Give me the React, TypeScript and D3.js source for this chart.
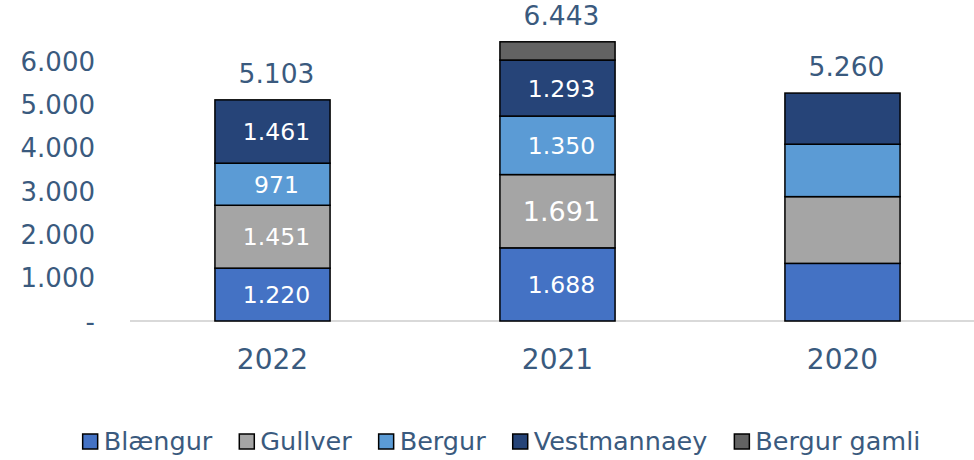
import React, { useEffect, useRef } from "react";
import * as d3 from "d3";

const categories = ["2022", "2021", "2020"];
const seriesNames = ["Blængur", "Gullver", "Bergur", "Vestmannaey", "Bergur gamli"];
const blaengur = [1220, 1688, 1330];
const gullver = [1451, 1691, 1540];
const bergur = [971, 1350, 1210];
const vestmannaey = [1461, 1293, 1180];
const bergurGamli = [0, 421, 0];
const totals = [5103, 6443, 5260];
const showSegLabels = [true, true, false];
const yTicks = [0, 1000, 2000, 3000, 4000, 5000, 6000];
const colors = ["#4472C4", "#A5A5A5", "#5B9BD5", "#264478", "#636363"];

const W = 974;
const H = 460;
const FONT = "'DejaVu Sans', Verdana, sans-serif";
const TEXT = "#3A5A7E";

const fmt = (v: number) => (v === 0 ? "-" : d3.format(",")(v).replace(/,/g, "."));

export default function App() {
  const ref = useRef<SVGSVGElement>(null);
  useEffect(() => {
    const svg = d3.select(ref.current!);
    svg.selectAll("*").remove();
    const values = [blaengur, gullver, bergur, vestmannaey, bergurGamli];
    const x = d3.scaleBand().domain(categories).range([130, 985]).paddingInner(0.596).paddingOuter(0.298);
    const y = d3.scaleLinear().domain([0, 6000]).range([321, 61]);

    svg.append("line").attr("x1", 130).attr("x2", 974).attr("y1", y(0)).attr("y2", y(0))
      .attr("stroke", "#d9d9d9").attr("stroke-width", 2);

    svg.append("g").selectAll("text").data(yTicks).join("text")
      .attr("x", 95).attr("y", (d) => y(d)).attr("dy", "0.37em")
      .attr("text-anchor", "end").attr("font-family", FONT).attr("font-size", 26).attr("fill", TEXT)
      .text((d) => fmt(d));

    categories.forEach((c, i) => {
      let base = 0;
      const bx = x(c)!;
      const bw = x.bandwidth();
      values.forEach((vals, s) => {
        const v = vals[i];
        if (v > 0) {
          svg.append("rect").attr("x", bx).attr("width", bw)
            .attr("y", y(base + v)).attr("height", y(base) - y(base + v))
            .attr("fill", colors[s]).attr("stroke", "#000").attr("stroke-width", 1.5);
        }
        base += v;
      });
      if (showSegLabels[i]) {
        let b2 = 0;
        values.forEach((vals, s) => {
          const v = vals[i];
          if (v > 0 && s < 4) {
            const big = s === 1 && i === 1;
            svg.append("text").attr("x", bx + bw / 2 + 4).attr("y", y(b2 + v / 2)).attr("dy", "0.36em")
              .attr("text-anchor", "middle").attr("font-family", FONT).attr("font-size", big ? 27 : 23.5)
              .attr("fill", "#fff").text(fmt(v));
          }
          b2 += v;
        });
      }
      svg.append("text").attr("x", bx + bw / 2 + 4).attr("y", y(totals[i]) - 17)
        .attr("text-anchor", "middle").attr("font-family", FONT).attr("font-size", 26.5)
        .attr("fill", TEXT).text(fmt(totals[i]));
      svg.append("text").attr("x", bx + bw / 2).attr("y", 369)
        .attr("text-anchor", "middle").attr("font-family", FONT).attr("font-size", 28)
        .attr("fill", TEXT).text(c);
    });

    const lg = svg.append("g");
    let cx = 0;
    const sq = 15;
    const gap = 26;
    seriesNames.forEach((n, s) => {
      const g = lg.append("g").attr("transform", `translate(${cx},0)`);
      g.append("rect").attr("x", 1).attr("y", -sq / 2 - 8.5).attr("width", sq).attr("height", sq)
        .attr("fill", colors[s]).attr("stroke", "#000").attr("stroke-width", 1.5);
      const t = g.append("text").attr("x", 22).attr("y", 0).attr("font-family", FONT)
        .attr("font-size", 25.5).attr("fill", TEXT).text(n);
      const tw = (t.node() as SVGTextElement).getComputedTextLength();
      cx += 22 + tw + gap;
    });
    const total = cx - gap;
    const start = 501 - total / 2;
    lg.attr("transform", `translate(${start},450)`);
  }, []);
  return (
    <div style={{ position: "fixed", left: 0, top: 0 }}>
      <svg ref={ref} width={W} height={H} style={{ display: "block", background: "#fff" }} />
    </div>
  );
}
